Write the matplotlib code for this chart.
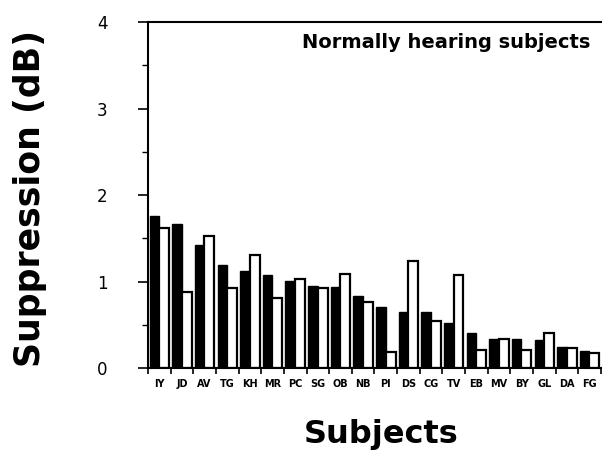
import matplotlib
matplotlib.use("Agg")
import matplotlib.pyplot as plt
import numpy as np

# ---------------------------------------------------------------------------
# Data
# ---------------------------------------------------------------------------
subjects = ["IY", "JD", "AV", "TG", "KH", "MR", "PC", "SG", "OB", "NB",
            "PI", "DS", "CG", "TV", "EB", "MV", "BY", "GL", "DA", "FG"]
filled_vals = [1.76, 1.66, 1.42, 1.19, 1.12, 1.07, 1.01, 0.95, 0.94, 0.83,
               0.70, 0.65, 0.65, 0.52, 0.40, 0.34, 0.33, 0.32, 0.24, 0.20]
open_vals = [1.62, 0.88, 1.53, 0.92, 1.31, 0.81, 1.03, 0.92, 1.09, 0.76,
             0.19, 1.24, 0.54, 1.08, 0.21, 0.34, 0.21, 0.40, 0.23, 0.17]
y_ticks = [0, 1, 2, 3, 4]

plt.rcParams.update({"font.family": "DejaVu Sans"})

fig = plt.figure(figsize=(6.04, 4.53), dpi=100)
ax = fig.add_axes([0.245, 0.1876, 0.75, 0.7638])

x = np.arange(len(subjects))
ax.bar(x + 0.07, filled_vals, width=0.42, align="edge",
       color="black", edgecolor="black", linewidth=1.0)
ax.bar(x + 0.49, open_vals, width=0.44, align="edge",
       color="white", edgecolor="black", linewidth=1.6)

ax.set_xlim(0, len(subjects))
ax.set_ylim(0, 4)

# x axis: labels centred, small ticks at group boundaries
ax.set_xticks(x + 0.5)
ax.set_xticklabels(subjects, fontsize=7, fontweight="bold")
ax.set_xticks(np.arange(len(subjects) + 1), minor=True)
ax.tick_params(axis="x", which="major", length=0, pad=8)
ax.tick_params(axis="x", which="minor", length=4, width=1.2, direction="out")

# y axis
ax.set_yticks(y_ticks)
ax.set_yticklabels([str(t) for t in y_ticks], fontsize=12)
ax.set_yticks(np.arange(0.5, 4, 1.0), minor=True)
ax.tick_params(axis="y", which="major", length=7, width=1.2, pad=22)
ax.tick_params(axis="y", which="minor", length=4, width=1.0)

ax.spines["right"].set_visible(False)
for s in ["left", "bottom", "top"]:
    ax.spines[s].set_linewidth(1.5)

ax.text(0.977, 0.94, "Normally hearing subjects", transform=ax.transAxes,
        ha="right", va="center", fontsize=14, fontweight="bold")

fig.text(30 / 604, 1 - 198 / 453, "Suppression (dB)", rotation=90,
         ha="center", va="center", fontsize=25, fontweight="bold")
fig.text(381 / 604, 1 - 434 / 453, "Subjects",
         ha="center", va="center", fontsize=23, fontweight="bold")

fig.savefig("out.png", dpi=100)
